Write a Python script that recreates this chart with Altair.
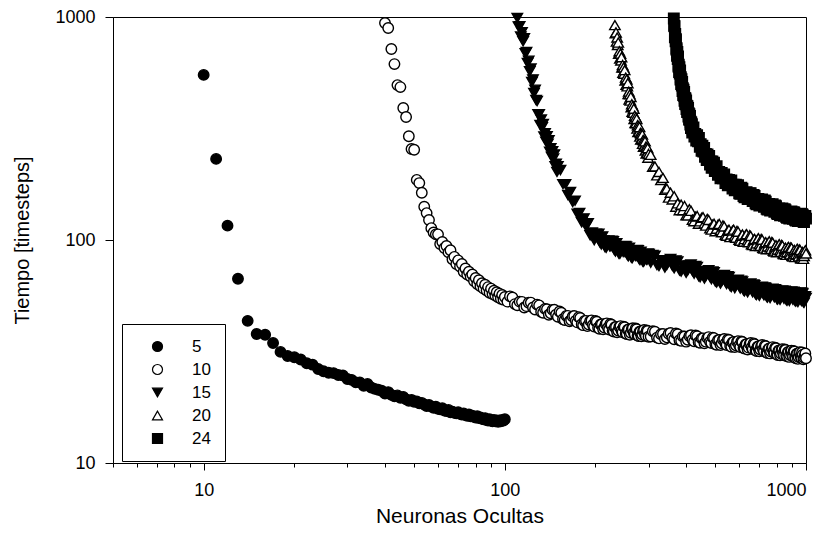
import altair as alt
import pandas as pd

# ---- data: (neuronas ocultas, tiempo) ----
s5 = [(10,550),(11,231),(12,116),(13,67),(14,43.4),(15,37.9),(16,37.6),(17,34.5),(18,31.5),(19,30.2),
      (20,29.8),(21,29.1),(22,28.0),(23,27.6),(24,26.4),(25,25.8),(26,25.4),(27,25.3),(28,24.8),(29,24.7),
      (30,23.8),(31,23.6),(32,23.0),(33,23.0),(34,22.2),(35,22.6),(36,21.8),(37,21.5),(38,21.3),(39,21.1),
      (40,20.5),(41,20.8),(42,20.2),(43,19.9),(44,20.1),(45,19.6),(46,19.8),(47,19.3),(48,19.0),(49,19.2),
      (50,18.8),(51,18.9),(52,18.5),(53,18.6),(54,18.3),(55,18.0),(56,18.2),(57,17.9),(58,17.7),(59,17.9),
      (60,17.5),(61,17.4),(62,17.6),(63,17.2),(64,17.1),(65,17.3),(66,16.9),(67,17.0),(68,16.8),(69,16.7),
      (70,16.9),(71,16.6),(72,16.5),(73,16.7),(74,16.4),(75,16.3),(76,16.5),(77,16.2),(78,16.3),(79,16.1),
      (80,16.0),(81,16.2),(82,15.9),(83,16.0),(84,15.8),(85,15.7),(86,15.9),(87,15.6),(88,15.5),(89,15.7),
      (90,15.5),(91,15.4),(92,15.6),(93,15.4),(94,15.5),(95,15.3),(96,15.5),(97,15.4),(98,15.6),(99,15.5),
      (100,15.7)]

s10 = [(40,940),(41,893),(42,719),(43,615),(44,495),(45,485),(46,391),(47,356),(48,292),(49,256),
       (50,254),(51,186),(52,180),(53,163),(54,141),(55,132),(56,123),(57,113),(58,108),(59,106),
       (60,106),(61,96),(62,98),(63,92),(64,94),(65,88),(66,90),(67,82),(68,84),(69,78),
       (70,81),(71,76),(72,78),(73,72),(74,74.5),(75,70),(76,72),(77,68.5),(78,70),(79,65.5),
       (80,67.5),(81,63.5),(82,66),(83,62),(84,64),(85,60.5),(86,63),(87,59.3),(88,61.5),(89,58),
       (90,60.5),(91,57.2),(92,59.2),(93,56.3),(94,58.3),(95,55.4),(96,57.5),(97,54.5),(98,56.7),(99,54),
       (100,55.5),(104,55.9),(108,51.6),(112,52.9),(116,49.8),(120,52.3),(124,49.8),(128,51.3),(132,47.7),
       (136,49.1),(140,46.2),(144,48.6),(148,46.3),(152,47.8),(156,44.1),(160,45.7),(164,43.2),(168,45.4),
       (172,43.5),(176,45.1),(180,41.9),(184,43.3),(188,41.1),(192,43.4),(196,41.6),(200,43.3),(204,40.4),
       (208,41.8),(212,39.8),(216,42),(220,40.4),(224,42),(228,39.2),(232,40.6),(236,38.6),(240,40.8),
       (244,39.3),(248,40.9),(252,38.1),(256,39.6),(260,37.6),(264,39.9),(268,38.4),(272,40.1),(276,37.3),
       (280,38.8),(284,37),(288,39.2),(292,37.7),(296,39.3),(300,36.8),
       (310,39),(320,36.5),(330,37.8),(340,36),(350,38),(360,36.5),(370,38.1),(380,35.5),(390,36.9),
       (400,35),(410,37.1),(420,35.7),(430,37.3),(440,34.8),(450,36.2),(460,34.4),(470,36.4),(480,35),
       (490,36.5),(500,34.1),(510,35.5),(520,33.8),(530,35.7),(540,34.4),(550,35.8),(560,33.5),(570,34.7),
       (580,33.1),(590,35),(600,33.7),(610,35.1),(620,32.8),(630,34),(640,32.3),(650,34.2),(660,33),
       (670,34.4),(680,32),(690,33.2),(700,31.7),(710,33.5),(720,32.3),(730,33.6),(740,31.3),(750,32.5),
       (760,31),(770,32.8),(780,31.6),(790,32.9),(800,30.7),(810,31.9),(820,30.4),(830,32.2),(840,31),
       (850,32.3),(860,30.3),(870,31.4),(880,29.9),(890,31.7),(900,30.5),(910,31.8),(920,29.7),(930,30.8),
       (940,29.3),(950,31.2),(960,30),(970,31.3),(980,29.2),(990,30.3),(1000,29.5)]
s10b = [(102,52.9),(106,55.2),(110,51.0),(114,52.8),(118,50.5),(122,52.4),(126,48.8),(130,50.9),(134,47.2),
        (138,48.9),(142,46.9),(146,48.7),(150,45.3),(154,47.2),(158,43.8),(162,45.7),(166,43.8),(170,45.6),
        (174,42.7),(178,44.7),(182,41.5),(186,43.4),(190,41.8),(194,43.6),(198,40.9),(202,43.0),(206,40.0),
        (210,41.9),(214,40.5),(218,42.3),(222,39.7),(226,41.7),(230,38.9),(234,40.7),(238,39.3),(242,41.1),
        (246,38.6),(250,40.6),(254,37.9),(258,39.7),(262,38.4),(266,40.2),(270,37.8),(274,39.8),(278,37.1),
        (282,38.9),(286,37.7),(290,39.5),(294,37.1),(298,39.1),
        (305,36.9),(315,38.8),(325,36.2),(335,37.9),(345,36.6),(355,38.3),(365,35.9),(375,37.8),(385,35.3),
        (395,36.9),(405,35.7),(415,37.4),(425,35.1),(435,37.0),(445,34.6),(455,36.2),(465,35.0),(475,36.7),
        (485,34.5),(495,36.3),(505,33.9),(515,35.6),(525,34.4),(535,36.0),(545,33.8),(555,35.6),(565,33.2),
        (575,34.9),(585,33.7),(595,35.2),(605,33.1),(615,34.9),(625,32.6),(635,34.1),(645,32.9),(655,34.5),
        (665,32.4),(675,34.1),(685,31.8),(695,33.3),(705,32.3),(715,33.8),(725,31.7),(735,33.4),(745,31.1),
        (755,32.6),(765,31.6),(775,33.1),(785,31.1),(795,32.7),(805,30.5),(815,32.0),(825,31.0),(835,32.4),
        (845,30.4),(855,32.1),(865,30.1),(875,31.5),(885,30.5),(895,31.9),(905,30.0),(915,31.6),(925,29.5),
        (935,30.9),(945,29.9),(955,31.4),(965,29.5),(975,30.6),(985,29.6),(995,31.0)]

s15 = [(110,990),(111,907),(112,909),(113,817),(114,854),(115,778),(116,803),(117,688),(118,697),(119,622),
       (120,637),(121,571),(122,588),(123,511),(124,525),(125,456),(126,472),(127,424),(128,420),(129,366),
       (130,366),(131,328),(132,347),(133,320),(134,331),(135,291),(136,301),(137,276),(138,292),(139,270),
       (140,280),(141,249),(142,258),(143,236),(144,250),(145,232),(146,242),(147,214),(148,220),(149,202),
       (150,214),(153,206),(156,178),(159,178),(162,159),(165,164),(168,148),(171,150),(174,131),(177,132),
       (180,120),(183,125),(186,115),(189,119),(192,105),(195,108),(198,99.8),(201,106.6),
       (205,106.6),(209,95.5),(213,99.5),(217,92.2),(221,99.4),(225,93.6),(229,98.7),(233,88.8),(237,92.9),
       (241,86.6),(245,93.7),(249,88.5),(253,93.6),(257,84.5),(261,88.9),(265,83),(269,89.8),(273,84.9),
       (277,89.9),(281,81.2),(285,85.3),(289,79.8),(293,86.4),(297,81.8),(301,86.6),
       (310,85.7),(320,77.2),(330,80.8),(340,75.2),(350,81.2),(360,76.6),(370,81),(380,73),(390,76.5),
       (400,71.3),(410,76.9),(420,72.5),(430,76.4),(440,68.8),(450,72),(460,67.1),(470,72.5),(480,68.4),
       (490,72.2),(500,65.1),(510,68.3),(520,63.7),(530,68.8),(540,65),(550,68.8),(560,62.1),(570,65.1),
       (580,60.8),(590,65.7),(600,62.1),(610,65.7),(620,59.4),(630,62.4),(640,58.3),(650,63.1),(660,59.7),
       (670,63.2),(680,57.1),(690,60.1),(700,56.2),(710,61),(720,57.7),(730,61.3),(740,55.6),(750,58.6),
       (760,54.9),(770,59.6),(780,56.5),(790,60.1),(800,54.4),(810,57.4),(820,53.9),(830,58.6),(840,55.7),
       (850,59.2),(860,53.8),(870,56.8),(880,53.3),(890,58),(900,55.1),(910,58.6),(920,53.2),(930,56.2),
       (940,52.7),(950,57.3),(960,54.5),(970,58),(980,52.6),(990,55.6),(1000,55)]
s15b = [(207,97.3),(211,103.8),(215,92.9),(219,98.4),(223,93.6),(227,99.2),(231,90.2),(235,96.7),(239,87.0),
        (243,92.7),(247,88.4),(251,94.0),(255,85.7),(259,92.3),(263,83.3),(267,88.8),(271,84.8),(275,90.2),
        (279,82.3),(283,88.6),(287,80.1),(291,85.5),(295,81.6),(299,86.9),
        (305,79.1),(315,84.9),(325,76.4),(335,81.2),(345,77.3),(355,82.1),(365,74.7),(375,80.2),(385,72.2),
        (395,76.9),(405,73.2),(415,77.6),(425,70.6),(435,75.7),(445,68.1),(455,72.4),(465,68.9),(475,73.2),
        (485,66.7),(495,71.6),(505,64.5),(515,68.6),(525,65.4),(535,69.6),(545,63.4),(555,68.2),(565,61.5),
        (575,65.5),(585,62.5),(595,66.4),(605,60.6),(615,65.2),(625,58.9),(635,62.8),(645,60.0),(655,63.8),
        (665,58.3),(675,62.7),(685,56.7),(695,60.5),(705,57.9),(715,61.7),(725,56.5),(735,60.9),(745,55.2),
        (755,59.1),(765,56.5),(775,60.4),(785,55.3),(795,59.7),(805,54.1),(815,57.9),(825,55.5),(835,59.4),
        (845,54.5),(855,58.9),(865,53.4),(875,57.3),(885,54.9),(895,58.7),(905,53.9),(915,58.3),(925,52.9),
        (935,56.7),(945,54.3),(955,58.1),(965,53.3),(975,57.6),(985,52.3),(995,56.0)]

s20 = [(232,920),(233,845),(234,853),(235,776),(236,809),(237,749),(238,768),(239,684),(240,702),(241,651),
       (242,685),(243,638),(244,660),(245,593),(246,609),(247,563),(248,594),(249,557),(250,578),(251,519),
       (252,535),(253,497),(254,525),(255,489),(256,505),(257,451),(258,463),(259,427),(260,450),(261,422),
       (262,438),(263,394),(264,406),(265,376),(266,398),(267,372),(268,388),(269,349),(270,361),(271,335),
       (272,355),(273,334),(274,349),(275,316),(276,327),(277,305),(278,324),(279,306),(280,321),(281,291),
       (282,302),(283,282),(284,300),(285,284),(286,297),(287,270),(288,281),(289,262),(290,279),(291,264),
       (292,277),(293,252),(294,262),(295,244),(296,261),(297,246),(298,258),(299,234),(300,243),
       (305,241),(310,213),(315,214),(320,195),(325,202),(330,186),(335,190),(340,168),(345,170),(350,155),
       (355,163),(360,152),(365,157),(370,141),(375,146),(380,136),(385,144),(390,136),(395,142),(400,129),
       (410,137.4),(420,123.4),(430,127.3),(440,118.4),(450,125.7),(460,118.7),(470,124.4),(480,112.8),
       (490,117.2),(500,109.5),(510,116.9),(520,110.6),(530,116.2),(540,105.6),(550,110.1),(560,103.1),
       (570,110.2),(580,104.4),(590,109.9),(600,100.2),(610,104.6),(620,98.2),(630,105.1),(640,99.7),
       (650,105),(660,95.8),(670,100.1),(680,94),(690,100.7),(700,95.7),(710,101.1),(720,92.4),(730,96.7),
       (740,90.9),(750,97.5),(760,92.8),(770,97.9),(780,89.5),(790,93.6),(800,88.1),(810,94.6),(820,90),
       (830,95.1),(840,87),(850,91.1),(860,85.8),(870,92.1),(880,87.7),(890,92.7),(900,84.9),(910,89),
       (920,83.8),(930,90.1),(940,85.9),(950,90.8),(960,83.1),(970,87.3),(980,82.3),(990,88.6),(1000,87)]
s20b = [(405,129.0),(415,135.2),(425,121.5),(435,128.1),(445,121.2),(455,126.7),(465,116.1),(475,122.9),
        (485,111.4),(495,118.2),(505,112.4),(515,118.0),(525,108.3),(535,115.0),(545,104.6),(555,111.2),
        (565,105.9),(575,111.3),(585,102.4),(595,109.0),(605,99.3),(615,105.8),(625,100.9),(635,106.2),
        (645,97.8),(655,104.2),(665,95.0),(675,101.2),(685,96.6),(695,101.9),(705,94.0),(715,100.3),
        (725,91.6),(735,97.8),(745,93.5),(755,98.7),(765,91.1),(775,97.2),(785,88.8),(795,94.8),(805,90.6),
        (815,95.7),(825,88.5),(835,94.4),(845,86.3),(855,92.3),(865,88.3),(875,93.2),(885,86.2),(895,92.1),
        (905,84.3),(915,90.2),(925,86.3),(935,91.3),(945,84.4),(955,90.2),(965,82.6),(975,88.5),(985,84.8),
        (995,89.9)]

s24 = [(364,985),(365,912),(366,909),(367,811),(368,839),(369,778),(370,796),(371,714),(372,725),(373,669),
       (374,697),(375,648),(376,666),(377,600),(378,611),(379,566),(380,595),(381,558),(382,576),(383,524),
       (384,537),(385,500),(386,526),(387,493),(388,512),(389,466),(390,479),(391,447),(392,472),(393,443),
       (394,461),(395,421),(396,433),(397,407),(398,431),(399,406),(400,422),(401,387),(402,400),(403,375),
       (404,398),(405,375),(406,391),(407,358),(408,370),(409,347),(410,367),(411,346),(412,360),(413,329),
       (414,339),(415,318),(416,337),(417,318),(418,331),(419,303),(420,313),
       (423,320),(426,291),(429,299),(432,279),(435,295),(438,277),(441,287),(444,262),(447,269),(450,251),
       (453,265),(456,249),(459,259),(462,236),(465,243),(468,228),(471,242),(474,229),(477,238),(480,218),
       (483,225),(486,211),(489,225),(492,212),(495,222),(498,204),(501,211),
       (505,214),(510,196),(515,202),(520,189),(525,200),(530,189),(535,197),(540,180),(545,187),(550,176),
       (555,186),(560,177),(565,185),(570,170),(575,177),(580,167),(585,177),(590,168),(595,176),(600,162),
       (610,171.6),(620,157.3),(630,162.6),(640,152.6),(650,161.7),(660,152.7),(670,159.1),(680,146.2),
       (690,151.5),(700,142.6),(710,151.4),(720,143.3),(730,150.3),(740,138),(750,143.4),(760,135.4),
       (770,143.7),(780,136.4),(790,143),(800,131.7),(810,136.9),(820,129.1),(830,137.5),(840,130.7),
       (850,137.3),(860,126.7),(870,131.9),(880,124.8),(890,133.3),(900,126.9),(910,133.3),(920,123.2),
       (930,128.5),(940,121.7),(950,130.2),(960,124.1),(970,130.6),(980,120.9),(990,126.3),(1000,124.7)]
s24b = [(605,161.0),(615,169.7),(625,155.5),(635,164.0),(645,155.6),(655,162.2),(665,149.4),(675,157.5),
        (685,144.7),(695,152.9),(705,145.5),(715,152.0),(725,140.7),(735,148.7),(745,136.8),(755,145.0),
        (765,138.1),(775,144.6),(785,133.9),(795,141.8),(805,130.6),(815,138.4),(825,132.0),(835,138.4),
        (845,128.3),(855,136.2),(865,125.6),(875,133.6),(885,127.8),(895,134.3),(905,124.6),(915,132.4),
        (925,122.3),(935,130.2),(945,124.7),(955,131.2),(965,122.0),(975,129.8),(985,120.4),(995,128.2)]

series_names = ["5", "10", "15", "20", "24"]
series_shapes = ["circle", "circle", "triangle-down", "triangle-up", "square"]
series_fills = ["black", "white", "black", "white", "black"]

x_major = [10, 100, 1000]
x_minor = [5, 6, 7, 8, 9, 20, 30, 40, 50, 60, 70, 80, 90, 200, 300, 400, 500, 600, 700, 800, 900]
y_major = [10, 100, 1000]

series_points = [s5, s10 + s10b, s15 + s15b, s20 + s20b, s24 + s24b]
rows = []
for name, pts in zip(series_names, series_points):
    for xv, yv in sorted(pts):
        rows.append({"serie": name, "neuronas": xv, "tiempo": yv})
df = pd.DataFrame(rows)

FONT = "Liberation Sans"
xscale = alt.Scale(type="log", domain=[5, 1000], nice=False)
yscale = alt.Scale(type="log", domain=[10, 1000], nice=False)

legend = alt.Legend(title=None, orient="none", legendX=9, legendY=307,
                    strokeColor="black", fillColor="white", padding=14,
                    symbolOffset=13, labelOffset=26, rowPadding=5,
                    symbolSize=100, symbolStrokeWidth=1.2,
                    labelFont=FONT, labelFontSize=17,
                    labelColor="black", cornerRadius=0)

points = alt.Chart(df).mark_point(
    size=110, opacity=1, filled=True, strokeWidth=1.4
).encode(
    x=alt.X("neuronas:Q", scale=xscale,
            axis=alt.Axis(values=x_major, format="d", title="Neuronas Ocultas",
                          orient="bottom", grid=False, tickSize=7, labelPadding=11,
                          titlePadding=6, titleFontSize=21, labelFlush=True)),
    y=alt.Y("tiempo:Q", scale=yscale,
            axis=alt.Axis(values=y_major, format="d", title="Tiempo [timesteps]",
                          grid=False, tickSize=8, labelPadding=10, titlePadding=22,
                          titleFontSize=20)),
    shape=alt.Shape("serie:N", scale=alt.Scale(domain=series_names, range=series_shapes),
                    legend=legend),
    fill=alt.Fill("serie:N", scale=alt.Scale(domain=series_names, range=series_fills),
                  legend=legend),
    stroke=alt.value("black"),
)

minor = alt.Chart(df).mark_point(opacity=0).encode(
    x=alt.X("neuronas:Q", scale=xscale,
            axis=alt.Axis(values=x_minor, labels=False, domain=False, grid=False,
                          tickSize=4, orient="bottom", title=None)),
)

chart = alt.layer(points, minor).resolve_scale(x="shared").resolve_axis(x="independent").properties(
    width=693, height=446,
    padding={"left": 4, "top": 0, "right": 5, "bottom": 0},
).configure(font=FONT).configure_view(
    stroke="black", strokeWidth=1
).configure_axis(
    domainColor="black", tickColor="black", labelColor="black", titleColor="black",
    labelFont=FONT, titleFont=FONT, labelFontSize=18, titleFontSize=19,
    titleFontWeight="normal", domainWidth=1, tickWidth=1
)

chart.save("out.html", embed_options={"renderer": "svg", "actions": False})
